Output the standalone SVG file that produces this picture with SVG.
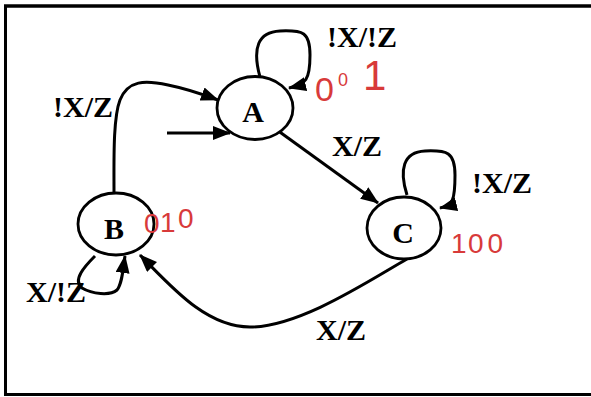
<svg xmlns="http://www.w3.org/2000/svg" width="591" height="397" viewBox="0 0 591 397">
  <style>
    .node { fill: #ffffff; stroke: #000; stroke-width: 2.8; }
    .lbl { font-family: "Liberation Serif", "Times New Roman", serif; font-weight: bold; font-size: 30px; fill: #000; }
    .name { font-family: "Liberation Serif", "Times New Roman", serif; font-weight: bold; font-size: 30px; fill: #000; text-anchor: middle; }
    .edge { fill: none; stroke: #000; stroke-width: 3; }
    .code { font-family: "Liberation Sans", "DejaVu Sans", sans-serif; fill: #d83a3a; font-size: 28px; }
  </style>
  <defs>
    <marker id="arr" markerUnits="userSpaceOnUse" markerWidth="20" markerHeight="16" refX="17" refY="7" orient="auto">
      <path d="M0,0 L18,7 L0,14 Z" fill="#000"/>
    </marker>
  </defs>
  <rect width="591" height="397" fill="#ffffff"/>
  <g id="frame" stroke="#000" fill="none">
    <line x1="4" y1="6" x2="591" y2="6" stroke-width="3.5"/>
    <line x1="5.5" y1="5" x2="5.5" y2="396" stroke-width="3"/>
    <line x1="4" y1="394.5" x2="591" y2="394.5" stroke-width="3"/>
  </g>
  <g id="connectors">
    <path class="edge" marker-end="url(#arr)" d="M 260 77 C 252 48, 258 32, 280 31 C 303 30, 310 32, 310 55 C 310 80, 306 84, 289 88"/>
    <path class="edge" marker-end="url(#arr)" d="M 114 192 C 114 160, 113 118, 120 100 C 128 80, 145 80, 168 85 C 188 89, 202 94, 218 100"/>
    <path class="edge" stroke-width="4.2" marker-end="url(#arr)" d="M 167 133 L 230 133"/>
    <path class="edge" marker-end="url(#arr)" d="M 277 130 L 378 203"/>
    <path class="edge" marker-end="url(#arr)" d="M 407 195 C 399 170, 403 152, 425 151 C 447 150, 455 152, 455 175 C 455 200, 453 205, 440 208"/>
    <path class="edge" marker-end="url(#arr)" d="M 407 259 C 370 280, 300 327, 250 327 C 205 327, 170 285, 140 255"/>
    <path class="edge" marker-end="url(#arr)" d="M 95 256 C 85 266, 72 280, 82 288 C 92 294, 110 296, 117 290 C 122 284, 123 270, 125 256"/>
  </g>
  <g id="node-A">
    <ellipse class="node" cx="255" cy="108" rx="38" ry="31.5"/>
    <text class="name" x="253" y="122">A</text>
  </g>
  <g id="node-B">
    <ellipse class="node" cx="116" cy="224" rx="38" ry="31"/>
    <text class="name" x="114" y="239">B</text>
  </g>
  <g id="node-C">
    <ellipse class="node" cx="404" cy="228" rx="37" ry="31"/>
    <text class="name" x="403" y="243">C</text>
  </g>
  <g id="labels">
    <text class="lbl" x="327" y="47">!X/!Z</text>
    <text class="lbl" x="53" y="117">!X/Z</text>
    <text class="lbl" x="332" y="156">X/Z</text>
    <text class="lbl" x="472" y="193">!X/Z</text>
    <text class="lbl" x="26" y="302">X/!Z</text>
    <text class="lbl" x="316" y="340">X/Z</text>
  </g>
  <g id="codes">
    <text class="code"><tspan x="315" y="101" font-size="34">0</tspan><tspan x="338" y="86" font-size="18">0</tspan><tspan x="363" y="90" font-size="42">1</tspan></text>
    <text class="code" x="144" y="233" fill="#222" font-size="24">0</text>
    <text class="code" x="160" y="232" font-size="32">1</text>
    <text class="code" x="178" y="228" font-size="26">0</text>
    <text class="code" x="451" y="253" font-size="34">1</text>
    <text class="code" x="468" y="253" font-size="28" letter-spacing="4">00</text>
  </g>
</svg>
